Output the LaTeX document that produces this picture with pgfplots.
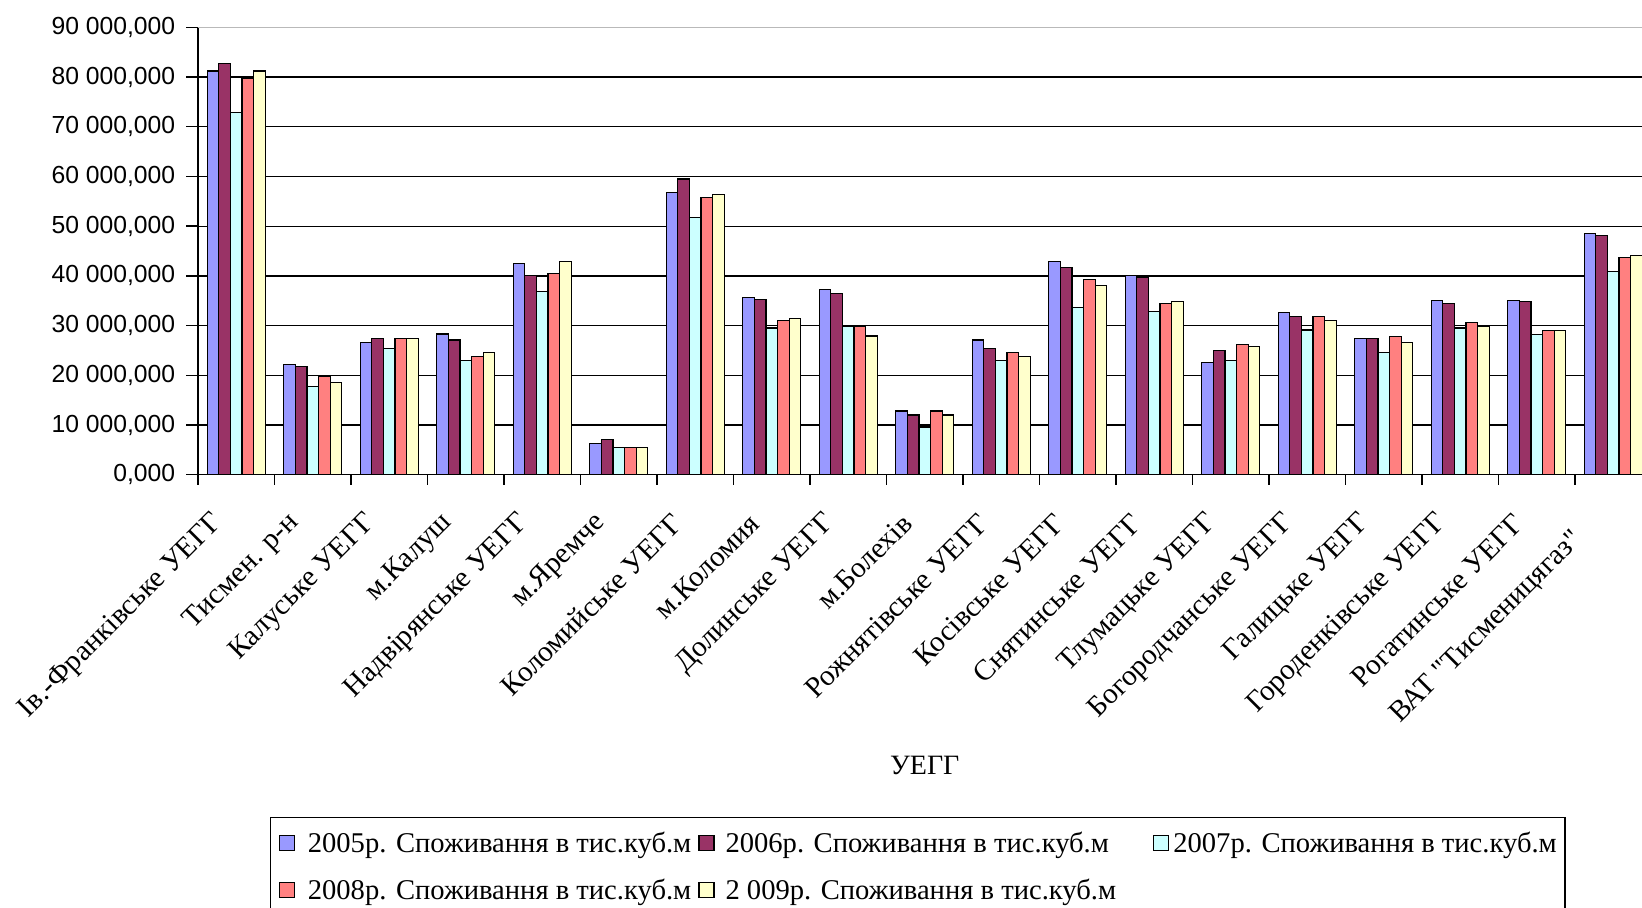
\documentclass[border=0pt]{standalone}
\usepackage{pgfplots}
\pgfplotsset{compat=1.18}
\usepackage{fontspec}
\setmainfont{Liberation Serif}
\newfontfamily\sansf{Liberation Sans}
\newfontfamily\serifplain{Liberation Serif}[Ligatures=TeXOff]
\definecolor{cA}{HTML}{9999FF}
\definecolor{cB}{HTML}{993366}
\definecolor{cC}{HTML}{CCFFFF}
\definecolor{cD}{HTML}{FF8080}
\definecolor{cE}{HTML}{FFFFCC}
\begin{document}
\begin{tikzpicture}
\begin{axis}[
  name=ax, at={(0,0)}, anchor=north west,
  scale only axis, width=726.75pt, height=223.7pt,
  xmin=-0.5, xmax=18.5, ymin=0, ymax=90000000,
  scaled y ticks=false,
  axis lines*=left,
  axis line style={black, line width=0.7pt},
  ybar=0pt, bar width=5.8pt,
  xtick={0,...,17},
  xticklabels={Ів.-Франківське УЕГГ, Тисмен. р-н, Калуське УЕГГ, м.Калуш, Надвірянське УЕГГ, м.Яремче, Коломийське УЕГГ, м.Коломия, Долинське УЕГГ, м.Болехів, Рожнятівське УЕГГ, Косівське УЕГГ, Снятинське УЕГГ, Тлумацьке УЕГГ, Богородчанське УЕГГ, Галицьке УЕГГ, Городенківське УЕГГ, Рогатинське УЕГГ},
  extra x ticks={18},
  extra x tick labels={{\serifplain ВАТ "Тисменицягаз"}},
  extra x tick style={tick style={draw=none}, xticklabel style={xshift=-12pt}},
  minor xtick={-0.5,0.5,1.5,2.5,3.5,4.5,5.5,6.5,7.5,8.5,9.5,10.5,11.5,12.5,13.5,14.5,15.5,16.5,17.5,18.5},
  major x tick style={draw=none},
  minor x tick style={black, line width=0.7pt},
  y tick style={black, line width=0.7pt},
  tick align=outside,
  major tick length=5.8pt, minor tick length=5pt,
  ytick={0,10000000,20000000,30000000,40000000,50000000,60000000,70000000,80000000},
  yticklabels={{0,000},{10 000,000},{20 000,000},{30 000,000},{40 000,000},{50 000,000},{60 000,000},{70 000,000},{80 000,000}},
  extra y ticks={90000000},
  extra y tick labels={90 000{,}000},
  extra y tick style={grid=major, major grid style={draw=gray!55, line width=0.7pt}},
  ymajorgrids=true,
  major grid style={black, line width=0.65pt},
  yticklabel style={font=\sansf\fontsize{12.35pt}{14pt}\selectfont, anchor=east, inner sep=0pt, xshift=-5.4pt},
  xticklabel style={font=\fontsize{14.6pt}{17pt}\selectfont, inner sep=0pt, xshift=-8.7pt, yshift=-16.2pt, rotate=45, anchor=east},
  xlabel={УЕГГ},
  xlabel style={font=\fontsize{14pt}{16pt}\selectfont, at={(axis description cs:0.5,-0.649)}, anchor=center},
  legend columns=3,
  legend cell align=left,
  legend style={at={(0.0495,-0.765)}, anchor=north west, draw=black, line width=0.7pt,
    font=\fontsize{14.3pt}{16pt}\selectfont, inner xsep=4pt, inner ysep=7.4pt, row sep=10pt,
    nodes={inner sep=0pt, text height=10pt, text depth=3.5pt},
    /tikz/column 1/.style={column sep=6.5pt},
    /tikz/column 2/.style={column sep=3.5pt},
    /tikz/column 3/.style={column sep=5.5pt},
    /tikz/column 4/.style={column sep=18.5pt},
    /tikz/column 5/.style={column sep=2pt}},
  legend image code/.code={\draw[#1, draw=black, line width=0.6pt] (0pt,-2.1pt) rectangle (7.5pt,5.4pt);},
]
\addplot[fill=cA, draw=black, line width=0.6pt] coordinates {
(0,81200000) (1,22100000) (2,26600000) (3,28300000) (4,42500000) (5,6300000) (6,56700000) (7,35600000) (8,37200000) (9,12800000) (10,27100000) (11,42900000) (12,40000000) (13,22600000) (14,32700000) (15,27400000) (16,35100000) (17,35100000) (18,48600000)};
\addplot[fill=cB, draw=black, line width=0.6pt] coordinates {
(0,82800000) (1,21700000) (2,27400000) (3,27100000) (4,40000000) (5,7100000) (6,59500000) (7,35200000) (8,36400000) (9,12000000) (10,25400000) (11,41700000) (12,39600000) (13,25000000) (14,31900000) (15,27400000) (16,34400000) (17,34800000) (18,48200000)};
\addplot[fill=cC, draw=black, line width=0.6pt] coordinates {
(0,72800000) (1,17700000) (2,25400000) (3,23000000) (4,36800000) (5,5400000) (6,51700000) (7,29500000) (8,29800000) (9,9600000) (10,23000000) (11,33600000) (12,32800000) (13,23000000) (14,29100000) (15,24600000) (16,29500000) (17,28200000) (18,40800000)};
\addplot[fill=cD, draw=black, line width=0.6pt] coordinates {
(0,79700000) (1,19700000) (2,27400000) (3,23800000) (4,40400000) (5,5400000) (6,55800000) (7,31100000) (8,29800000) (9,12800000) (10,24600000) (11,39200000) (12,34400000) (13,26200000) (14,31900000) (15,27800000) (16,30700000) (17,29000000) (18,43700000)};
\addplot[fill=cE, draw=black, line width=0.6pt] coordinates {
(0,81200000) (1,18600000) (2,27400000) (3,24600000) (4,42900000) (5,5400000) (6,56300000) (7,31500000) (8,27900000) (9,12000000) (10,23800000) (11,38000000) (12,34800000) (13,25800000) (14,31100000) (15,26600000) (16,29800000) (17,29000000) (18,44100000)};
\legend{2005р. Споживання в тис.куб.м, 2006р. Споживання в тис.куб.м, 2007р. Споживання в тис.куб.м, 2008р. Споживання в тис.куб.м, 2 009р. Споживання в тис.куб.м}
\end{axis}
\pgfresetboundingbox
\path[use as bounding box] ([xshift=-99pt, yshift=13.65pt]ax.north west) rectangle ([xshift=722pt, yshift=-439.85pt]ax.north west);
\end{tikzpicture}
\end{document}
